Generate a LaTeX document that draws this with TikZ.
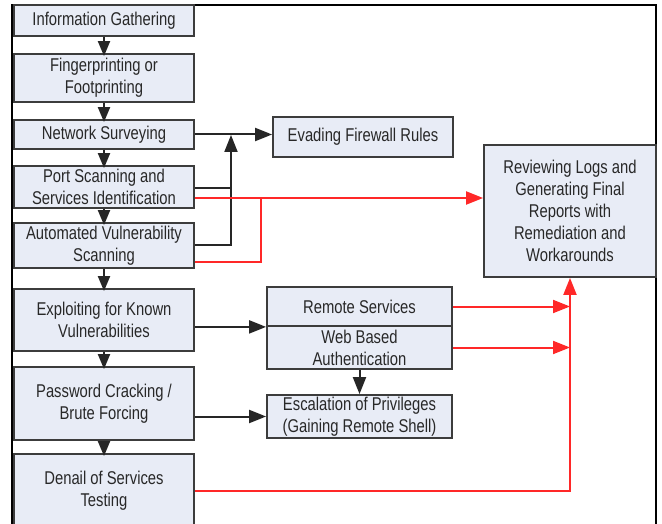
\documentclass[tikz,border=0pt]{standalone}
\usepackage{fontspec}
\setmainfont{Liberation Sans}[FakeStretch=0.8]
\usetikzlibrary{arrows.meta}
\definecolor{boxfill}{RGB}{232,236,246}
\definecolor{boxline}{RGB}{60,60,60}
\definecolor{txt}{RGB}{40,40,40}
\definecolor{flowred}{RGB}{255,40,40}
\begin{document}
\begin{tikzpicture}[x=1pt,y=-1pt,
  stagebox/.style={draw=boxline,line width=1.8pt,fill=boxfill,text=txt,
    align=center,inner sep=0pt,font=\fontsize{18.5}{22}\selectfont},
  stepflow/.style={draw=black!85,line width=2pt,shorten >=-3pt,
    -{Triangle[length=15pt,width=12pt]}},
  flow/.style={draw=black!85,line width=2pt,
    -{Triangle[length=17pt,width=13pt]}},
  plain/.style={draw=black!85,line width=2pt},
  report/.style={draw=flowred,line width=2pt,
    -{Triangle[length=17pt,width=13pt]}},
  plainred/.style={draw=flowred,line width=2pt}]
\useasboundingbox (0,0) rectangle (662,524);
\begin{scope}
\clip (0,0) rectangle (662,524);
% outer frame
\draw[line width=2.2pt] (12,5) rectangle (656,560);

% main column of test stages
\node[stagebox,minimum width=180pt,minimum height=31pt] (ig)  at (104,20.5) {Information Gathering};
\node[stagebox,minimum width=180pt,minimum height=48pt] (fp)  at (104,78) {Fingerprinting or\\Footprinting};
\node[stagebox,minimum width=180pt,minimum height=29pt] (ns)  at (104,134.5) {Network Surveying};
\node[stagebox,minimum width=180pt,minimum height=42pt] (ps)  at (104,187) {Port Scanning and\\Services Identification};
\node[stagebox,minimum width=180pt,minimum height=45pt] (av)  at (104,245.5) {Automated Vulnerability\\Scanning};
\node[stagebox,minimum width=180pt,minimum height=62pt] (ex)  at (104,320) {Exploiting for Known\\Vulnerabilities};
\node[stagebox,minimum width=180pt,minimum height=73pt] (pc)  at (104,403.5) {Password Cracking /\\Brute Forcing};
\node[stagebox,minimum width=180pt,minimum height=74pt] (dos) at (104,491) {Denail of Services\\Testing};

% side stages
\node[stagebox,minimum width=180pt,minimum height=40pt] (ev)  at (363,137) {Evading Firewall Rules};
\node[stagebox,minimum width=172pt,minimum height=132pt] (rl) at (570,211) {Reviewing Logs and\\Generating Final\\Reports with\\Remediation and\\Workarounds};
\node[stagebox,minimum width=185pt,minimum height=39pt] (rs)  at (359.5,306.5) {Remote Services};
\node[stagebox,minimum width=185pt,minimum height=43pt] (wb)  at (359.5,347.5) {Web Based\\Authentication};
\node[stagebox,minimum width=185pt,minimum height=43pt] (esc) at (359.5,416.5) {Escalation of Privileges\\(Gaining Remote Shell)};

% sequence down the main column
\draw[stepflow] (ig) -- (fp);
\draw[stepflow] (fp) -- (ns);
\draw[stepflow] (ns) -- (ps);
\draw[stepflow] (ps) -- (av);
\draw[stepflow] (av) -- (ex);
\draw[stepflow] (ex) -- (pc);
\draw[stepflow] (pc) -- (dos);

% firewall evasion branch
\coordinate (jn) at (231,135);
\draw[flow] (ns.east) -- (ns.east -| ev.west);
\draw[plain] ([yshift=-1pt]ps.east) -- ([yshift=-1pt]ps.east -| jn);
\draw[flow] (av.east) -| (jn);

% exploitation branch
\draw[flow] (rs.south west -| ex.east) -- (rs.south west);
\draw[flow] (esc.west -| pc.east) -- (esc.west);
\draw[flow] (wb.south) -- (esc.north);

% reporting paths
\coordinate (rj) at (261,198);
\draw[report] ([yshift=-11pt]ps.east) -- ([yshift=-11pt]ps.east -| rl.west);
\draw[plainred] ([yshift=-16.5pt]av.east) -| (rj);
\draw[report] (dos.east) -| (rl.south);
\draw[report] (rs.east) -- (rs.east -| rl.south);
\draw[report] (wb.east) -- (wb.east -| rl.south);
\end{scope}
\end{tikzpicture}
\end{document}
